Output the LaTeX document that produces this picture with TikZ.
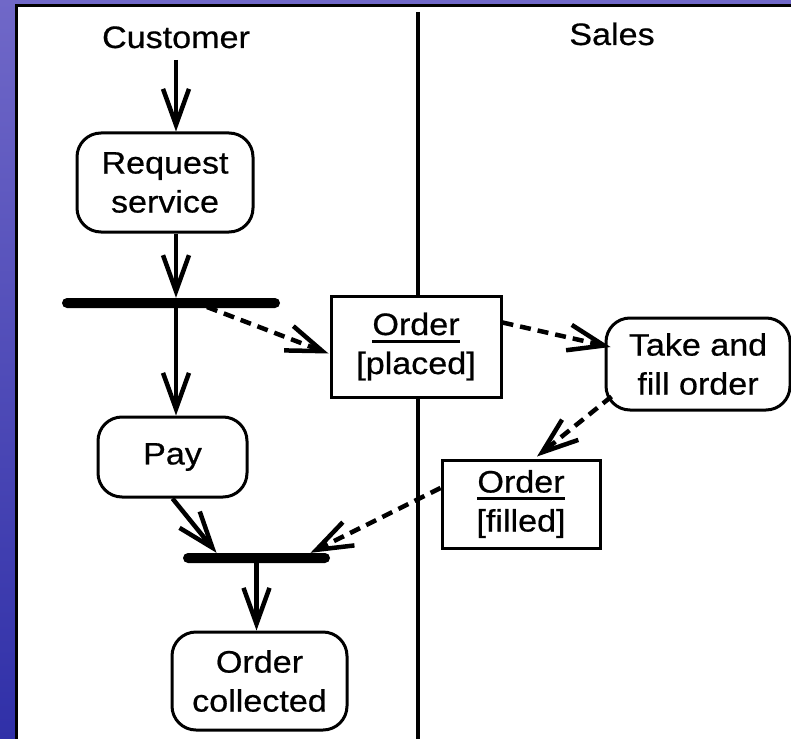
\documentclass[tikz,border=0pt]{standalone}
\usepackage{fontspec}
\setmainfont{Liberation Sans}[FakeStretch=1.1, FakeBold=0.6]
\usetikzlibrary{arrows.meta,calc}

\definecolor{bgtop}{RGB}{112,104,200}
\definecolor{bgbot}{RGB}{48,48,168}

% underlined object name in an object node
\newcommand\ulword[1]{\setbox0\hbox{#1}\rlap{\rule[-7.5pt]{\wd0}{3pt}}\box0}

\tikzset{
  every node/.style={font=\fontsize{31}{39}\selectfont, inner sep=0pt},
  action/.style={draw, line width=3pt, fill=white, rounded corners=24pt, align=center},
  object/.style={draw, line width=3pt, fill=white, align=center},
  syncbar/.style={fill=black, minimum height=10pt, rounded corners=5pt},
  flow/.style={line width=4.5pt, -{Straight Barb[length=36pt, width=26pt, line width=4.5pt]}},
  objflow/.style={flow, dash pattern=on 11pt off 7pt},
}

\begin{document}
\begin{tikzpicture}[x=1pt, y=-1pt]
  \useasboundingbox (0,0) rectangle (791,738);

  % slide background and white panel
  \shade[top color=bgtop, bottom color=bgbot] (0,0) rectangle (791,738);
  \fill[white] (16,6) rectangle (800,750);
  \draw[line width=3pt] (16,750) -- (16,6) -- (800,6);

  % swimlane divider
  \draw[line width=3.5pt] (418,12) -- (418,745);

  % lane titles
  \node[anchor=base] (custlabel) at (176,48) {Customer};
  \node[anchor=base] (saleslabel) at (612,45) {Sales};

  % actions
  \node[action, minimum width=176pt, minimum height=99pt] (req) at (165,182.5) {Request\\service};
  \node[action, minimum width=149pt, minimum height=80pt] (pay) at (172.5,457) {Pay};
  \node[action, minimum width=184pt, minimum height=92pt] (take) at (698,364) {Take and\\fill order};
  \node[action, minimum width=175pt, minimum height=98pt] (coll) at (259.5,681) {Order\\collected};

  % object nodes
  \node[object, minimum width=170pt, minimum height=101pt] (placed) at (416,346.5) {\ulword{Order}\\{[placed]}};
  \node[object, minimum width=158pt, minimum height=88pt] (filled) at (521,504) {\ulword{Order}\\{[filled]}};

  % fork and join bars
  \node[syncbar, minimum width=218pt] (fork) at (171,303) {};
  \node[syncbar, minimum width=147pt] (join) at (256.5,558) {};

  % control flow
  \coordinate (start) at (176,60);
  \draw[flow] (start) -- (req.north -| start);
  \draw[flow] (req.south -| start) -- (fork.north -| start);
  \draw[flow] (fork.south -| start) -- (pay.north -| start);
  \draw[flow] (pay.south) -- ($(join.north)+(-40,0)$);
  \draw[flow] (join.south) -- (join.south |- coll.north);

  % object flow
  \draw[objflow] ($(fork.center)+(36,4)$) -- ($(placed.west)+(-1,7)$);
  \draw[objflow] ($(placed.east)+(0,-24)$) -- ($(take.west)+(6,-17)$);
  \draw[objflow] ($(take.south west)+(7,-15)$) -- ($(filled.north)+(16,-2)$);
  \draw[objflow] ($(filled.west)+(0,-16)$) -- ($(join.north)+(54,0)$);
\end{tikzpicture}
\end{document}
